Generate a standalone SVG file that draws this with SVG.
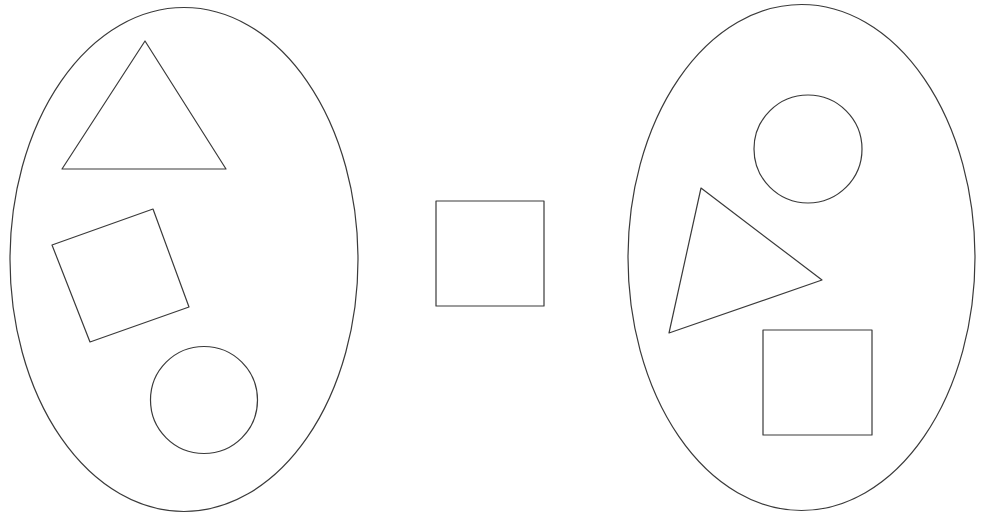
<svg xmlns="http://www.w3.org/2000/svg" width="981" height="514" viewBox="0 0 981 514">
<style>
.s{fill:none;stroke:#3a3a3a;stroke-width:1.2;stroke-linejoin:round}
</style>
<rect width="981" height="514" fill="#fff"/>
<g id="left-set">
<ellipse class="s" cx="184" cy="259.5" rx="174" ry="252"/>
<polygon class="s" points="145,41 62,169 226,169"/>
<polygon class="s" points="52,245 153,209 189,307 90,342"/>
<circle class="s" cx="204" cy="400" r="53.5"/>
</g>
<g id="middle-square">
<rect class="s" x="436" y="201" width="108" height="105"/>
</g>
<g id="right-set">
<ellipse class="s" cx="801.5" cy="257.5" rx="173.5" ry="253"/>
<circle class="s" cx="808" cy="149" r="54"/>
<polygon class="s" points="701,188 822,280 669,333"/>
<rect class="s" x="763" y="330" width="109" height="105"/>
</g>
<g id="connectors"/>
</svg>
